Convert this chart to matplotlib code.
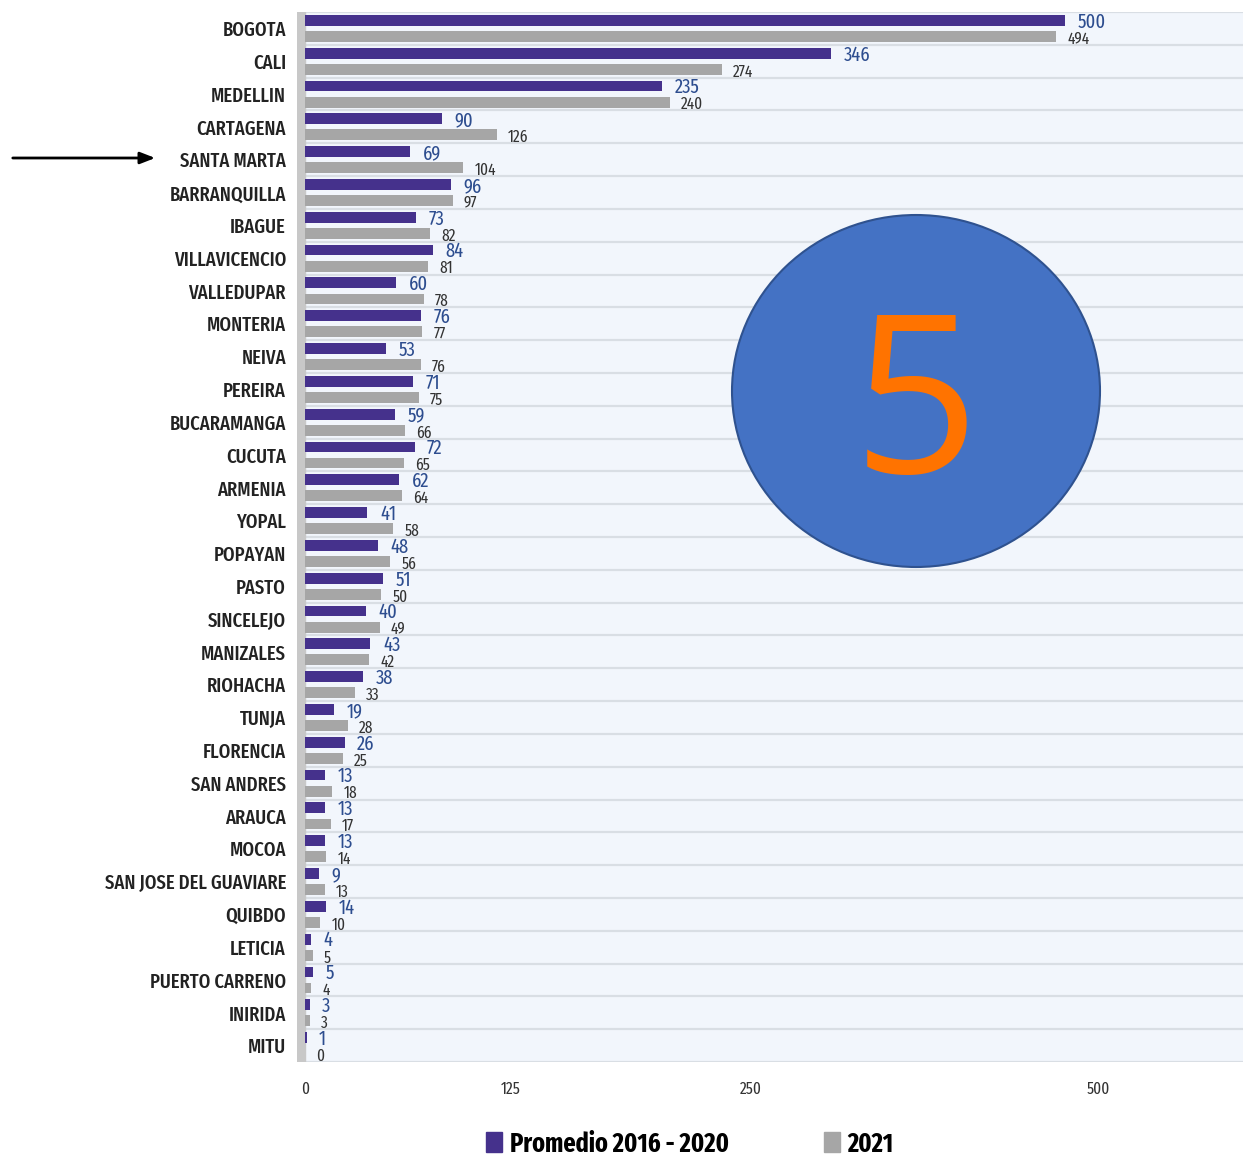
import numpy as np
import matplotlib
matplotlib.use("Agg")
import matplotlib.pyplot as plt
from matplotlib.patches import Ellipse, Rectangle

plt.rcParams['font.family'] = ['Fira Sans Extra Condensed', 'PT Sans Narrow', 'DejaVu Sans']

cities = ["BOGOTA", "CALI", "MEDELLIN", "CARTAGENA", "SANTA MARTA", "BARRANQUILLA",
          "IBAGUE", "VILLAVICENCIO", "VALLEDUPAR", "MONTERIA", "NEIVA", "PEREIRA",
          "BUCARAMANGA", "CUCUTA", "ARMENIA", "YOPAL", "POPAYAN", "PASTO", "SINCELEJO",
          "MANIZALES", "RIOHACHA", "TUNJA", "FLORENCIA", "SAN ANDRES", "ARAUCA", "MOCOA",
          "SAN JOSE DEL GUAVIARE", "QUIBDO", "LETICIA", "PUERTO CARRENO", "INIRIDA", "MITU"]
promedio = [500, 346, 235, 90, 69, 96, 73, 84, 60, 76, 53, 71, 59, 72, 62, 41, 48, 51,
            40, 43, 38, 19, 26, 13, 13, 13, 9, 14, 4, 5, 3, 1]
y2021 = [494, 274, 240, 126, 104, 97, 82, 81, 78, 77, 76, 75, 66, 65, 64, 58, 56, 50,
         49, 42, 33, 28, 25, 18, 17, 14, 13, 10, 5, 4, 3, 0]
tick_labels = ["0", "125", "250", "500"]
tick_pos = [0, 135, 293, 522]   # where the source chart prints its (irregular) tick labels

purple = "#45318c"
grey = "#a6a6a6"

fig = plt.figure(figsize=(12.43, 11.56), dpi=100)
ax = fig.add_axes([0.239, 0.0813, 0.761, 0.9083])
ax.set_facecolor("#f2f6fc")

y = np.arange(len(cities))
off = 0.245
h = 0.33
ax.barh(y - off, promedio, height=h, color=purple, zorder=3)
ax.barh(y + off, y2021, height=h, color=grey, zorder=3)

for yi, v in zip(y, promedio):
    ax.annotate(str(v), (v, yi - off + 0.05), xytext=(9, 0), textcoords="offset points",
                va="center", ha="left", fontsize=14.5, color="#2d4d8f", zorder=4)
for yi, v in zip(y, y2021):
    ax.annotate(str(v), (v, yi + off + 0.08), xytext=(8, 0), textcoords="offset points",
                va="center", ha="left", fontsize=12, color="#333333", zorder=4)

# row separators
for yl in np.arange(-0.5, len(cities), 1.0):
    ax.axhline(yl, color="#d9dee4", lw=1.6, zorder=1)

ax.axvspan(-5.3, 0, color="#c8c8c8", zorder=2)
ax.set_xlim(-5.3, 617)
ax.set_ylim(len(cities) - 0.5, -0.5)

ax.set_yticks(y)
ax.set_yticklabels(cities, fontsize=14.5, color="#222222", fontweight="medium")
ax.tick_params(axis="y", length=0, pad=8)
ax.set_xticks(tick_pos)
ax.set_xticklabels(tick_labels, fontsize=12, color="#333333")
ax.tick_params(axis="x", length=0, pad=14)
for s in ax.spines.values():
    s.set_visible(False)

# legend
handles = [Rectangle((0, 0), 1, 1, color=purple), Rectangle((0, 0), 1, 1, color=grey)]
fig.legend(handles, ["Promedio 2016 - 2020", "2021"], loc="center",
           bbox_to_anchor=(0.555, 0.0105), ncol=2, frameon=False,
           prop={"size": 19, "weight": "bold"}, handlelength=0.6, handleheight=0.8,
           handletextpad=0.3, columnspacing=3.6)

# arrow pointing at SANTA MARTA
ax.annotate("", xy=(158 / 1243, 1 - 158 / 1156), xytext=(10 / 1243, 1 - 158 / 1156),
            xycoords="figure fraction", textcoords="figure fraction",
            arrowprops=dict(arrowstyle="-|>,head_length=0.9,head_width=0.35",
                            color="black", lw=2))

# numbered circle
circ = Ellipse((916 / 1243, 1 - 391 / 1156), 368 / 1243, 352 / 1156,
               transform=fig.transFigure, facecolor="#4472c4", edgecolor="#2f528f",
               lw=1.5, zorder=10)
fig.add_artist(circ)
fig.text(916 / 1243, 1 - 415 / 1156, "5", ha="center", va="center", fontsize=159,
         color="#ff7300", family=["Open Sans", "DejaVu Sans"], fontweight="medium",
         fontstyle="normal", zorder=11)

fig.savefig("out.png", dpi=100)
